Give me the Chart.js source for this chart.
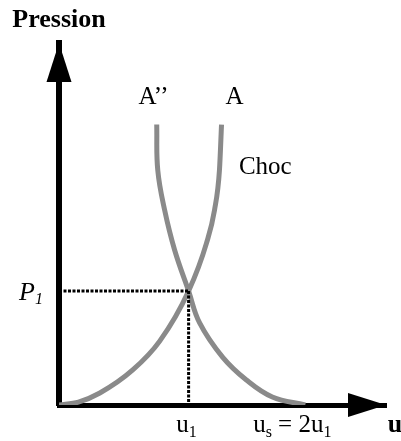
<!DOCTYPE html>
<html>
<head>
<meta charset="utf-8">
<script src="https://cdn.jsdelivr.net/npm/chart.js@4"></script>
<style>
    html, body { margin: 0; padding: 0; background: #fff; }
    #wrap { width: 401px; height: 441px; }
</style>
</head>
<body>
<div id="wrap"><canvas id="shockChart"></canvas></div>
<script>
// ================================================
// Pression / vitesse - courbes A et A'' (choc)
// units: u in multiples of u1, P in multiples of P1
// ================================================

// curve A (rising branch)
const curveA_u = [0, 0.15, 0.315, 0.569, 0.777, 1.0, 1.138, 1.2, 1.238, 1.254];
const curveA_p = [0, 0.025, 0.105, 0.307, 0.56, 1.0, 1.42, 1.71, 2.06, 2.46];

// curve A'' (falling branch)
const curveA2_u = [0.754, 0.762, 0.815, 0.892, 1.0, 1.085, 1.262, 1.446, 1.646, 1.9];
const curveA2_p = [2.46, 2.06, 1.71, 1.36, 1.0, 0.72, 0.42, 0.219, 0.07, 0];

// intersection point (u1, P1)
const u1 = 1;
const P1 = 1;
// where the "us = 2u1" label sits on the u axis
const usLabelAt = 1.8;

const axisMax = { u: 2.523, p: 3.175 };

const serif = '"Liberation Serif", "DejaVu Serif", serif';

function toPoints(us, ps) {
    return us.map((u, i) => ({ x: u, y: ps[i] }));
}

// draw a text made of runs (normal text + subscripts)
function drawRuns(ctx, runs, x, y, align) {
    let total = 0;
    runs.forEach(r => { ctx.font = r.font; total += ctx.measureText(r.text).width; });
    let cx = x;
    if (align === 'center') cx = x - total / 2;
    if (align === 'right') cx = x - total;
    ctx.textAlign = 'left';
    ctx.textBaseline = 'alphabetic';
    runs.forEach(r => {
        ctx.font = r.font;
        ctx.fillText(r.text, cx, y + (r.dy || 0));
        cx += ctx.measureText(r.text).width;
    });
}

const main = '25px ' + serif;
const sub = '16px ' + serif;

// arrow heads + all the text labels
const annotationsPlugin = {
    id: 'annotations',
    afterDraw(chart) {
        const ctx = chart.ctx;
        const area = chart.chartArea;
        const xs = chart.scales.x;
        const ys = chart.scales.y;

        ctx.save();
        ctx.fillStyle = '#000';

        // arrow on P axis
        ctx.beginPath();
        ctx.moveTo(area.left, area.top);
        ctx.lineTo(area.left - 12.5, area.top + 39);
        ctx.lineTo(area.left + 12.5, area.top + 39);
        ctx.closePath();
        ctx.fill();

        // arrow on u axis
        ctx.beginPath();
        ctx.moveTo(area.right, area.bottom);
        ctx.lineTo(area.right - 38, area.bottom - 12);
        ctx.lineTo(area.right - 38, area.bottom + 12);
        ctx.closePath();
        ctx.fill();

        // axis titles
        drawRuns(ctx, [{ text: 'Pression', font: 'bold 26px ' + serif }], area.left, 27, 'center');
        drawRuns(ctx, [{ text: 'u', font: 'bold 26px ' + serif }], area.right + 9, 432, 'center');

        // curve names
        drawRuns(ctx, [{ text: 'A\u2019\u2019', font: main }], xs.getPixelForValue(0.73), 104, 'center');
        drawRuns(ctx, [{ text: 'A', font: main }], xs.getPixelForValue(1.354), 104, 'center');
        drawRuns(ctx, [{ text: 'Choc', font: main }], xs.getPixelForValue(1.592), 174, 'center');

        // P1
        drawRuns(ctx, [
            { text: 'P', font: 'italic 26px ' + serif },
            { text: '1', font: 'italic 16px ' + serif, dy: 4 }
        ], area.left - 16, ys.getPixelForValue(P1) + 9, 'right');

        // u1
        drawRuns(ctx, [
            { text: 'u', font: main },
            { text: '1', font: sub, dy: 5 }
        ], xs.getPixelForValue(u1) - 2, 432, 'center');

        // us = 2u1
        drawRuns(ctx, [
            { text: 'u', font: main },
            { text: 's', font: sub, dy: 5 },
            { text: ' = 2u', font: main },
            { text: '1', font: sub, dy: 5 }
        ], xs.getPixelForValue(usLabelAt), 432, 'center');

        ctx.restore();
    }
};

const ctx = document.getElementById('shockChart');

new Chart(ctx, {
    type: 'scatter',
    data: {
        datasets: [
            {
                label: 'P1',
                data: [{ x: 0, y: P1 }, { x: u1, y: P1 }],
                showLine: true,
                borderColor: '#000',
                borderWidth: 3,
                borderDash: [3, 1.5],
                pointRadius: 0
            },
            {
                label: 'u1',
                data: [{ x: u1, y: P1 }, { x: u1, y: 0 }],
                showLine: true,
                borderColor: '#000',
                borderWidth: 3,
                borderDash: [3, 1.5],
                pointRadius: 0
            },
            {
                label: 'A',
                data: toPoints(curveA_u, curveA_p),
                showLine: true,
                borderColor: '#8a8a8a',
                borderWidth: 5,
                pointRadius: 0,
                cubicInterpolationMode: 'monotone'
            },
            {
                label: "A''",
                data: toPoints(curveA2_u, curveA2_p),
                showLine: true,
                borderColor: '#8a8a8a',
                borderWidth: 5,
                pointRadius: 0,
                tension: 0.4
            }
        ]
    },
    options: {
        responsive: true,
        maintainAspectRatio: false,
        animation: false,
        layout: {
            padding: { left: 59, top: 43, right: 15, bottom: 36 }
        },
        plugins: {
            legend: { display: false },
            tooltip: { enabled: false }
        },
        scales: {
            x: {
                type: 'linear',
                min: 0,
                max: axisMax.u,
                z: 1,
                grid: { display: false, drawTicks: false },
                ticks: { display: false },
                border: { display: true, color: '#000', width: 5 }
            },
            y: {
                type: 'linear',
                min: 0,
                max: axisMax.p,
                z: 1,
                grid: { display: false, drawTicks: false },
                ticks: { display: false },
                border: { display: true, color: '#000', width: 6 }
            }
        }
    },
    plugins: [annotationsPlugin]
});
</script>
</body>
</html>
